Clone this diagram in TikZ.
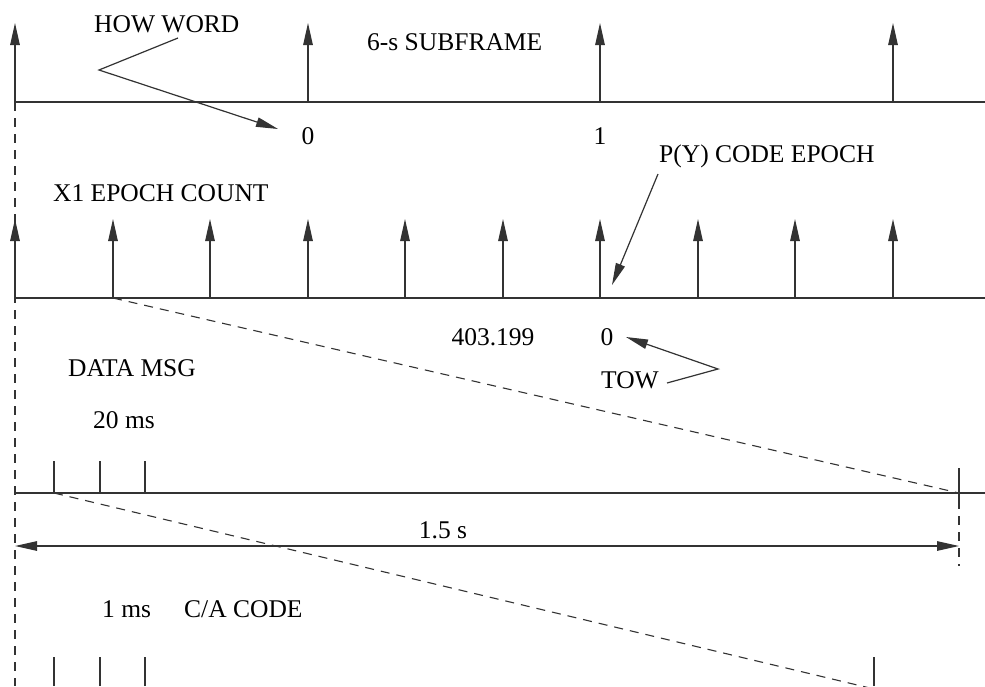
\documentclass[tikz,border=0pt]{standalone}
\usepackage{fontspec}
\setmainfont{Liberation Serif}
\usetikzlibrary{arrows.meta}
\begin{document}
\begin{tikzpicture}[x=1pt,y=-1pt,
  lbl/.style={inner sep=0pt, font=\fontsize{25.5}{30}\selectfont},
  ln/.style={draw=black!80, line width=1.2pt},
  tip/.style={-{Triangle[length=22pt,width=9.5pt]}},
  dtip/.style={{Triangle[length=22pt,width=9.5pt]}-{Triangle[length=22pt,width=9.5pt]}},
  dsh/.style={draw=black!80, line width=1.1pt, dash pattern=on 9pt off 7pt}]
\useasboundingbox[fill=white] (0,0) rectangle (985,686);
% left dashed reference line
\coordinate (vtop) at (15,102);
\coordinate (vbot) at (15,686);
\draw[dsh] (vtop) -- (vbot);
% ---------- row 1: 6-s subframe ----------
\coordinate (r1l) at (15,102);
\coordinate (r1r) at (985,102);
\draw[ln] (r1l) -- (r1r);
\foreach \x [count=\i] in {15,308,600,893} {
  \coordinate (a\i) at (\x,102);
  \coordinate (at\i) at (\x,23);
  \draw[ln,tip] (a\i) -- (at\i);
}
\node[lbl,anchor=base west] (how) at (94,32) {HOW WORD};
\node[lbl,anchor=base west] (sub) at (367,50) {6-s SUBFRAME};
\node[lbl,anchor=base] (z0) at (308,144) {0};
\node[lbl,anchor=base] (z1) at (600,144) {1};
\coordinate (howa) at (178,38);
\coordinate (howv) at (99,70);
\coordinate (howt) at (278,129);
\draw[ln,tip] (howa) -- (howv) -- (howt);
% ---------- row 2: X1 epoch count ----------
\coordinate (r2l) at (15,298);
\coordinate (r2r) at (985,298);
\draw[ln] (r2l) -- (r2r);
\foreach \x [count=\i] in {15,113,210,308,405,503,600,698,795,893} {
  \coordinate (b\i) at (\x,298);
  \coordinate (bt\i) at (\x,219);
  \draw[ln,tip] (b\i) -- (bt\i);
}
\node[lbl,anchor=base west] (x1) at (53,201) {X1 EPOCH COUNT};
\node[lbl,anchor=base west] (py) at (659,162) {P(Y) CODE EPOCH};
\coordinate (pya) at (658,174);
\coordinate (pyt) at (612,285);
\draw[ln,tip] (pya) -- (pyt);
\node[lbl,anchor=base] (cnt) at (493,345) {403.199};
\node[lbl,anchor=base] (tow0) at (607,345) {0};
\node[lbl,anchor=base west] (tow) at (601,388) {TOW};
\coordinate (towa) at (667,383);
\coordinate (towv) at (718,369);
\coordinate (towt) at (626,337);
\draw[ln,tip] (towa) -- (towv) -- (towt);
% ---------- row 3: data message ----------
\node[lbl,anchor=base west] (dm) at (68,376) {DATA MSG};
\node[lbl,anchor=base] (ms20) at (124,428) {20 ms};
\coordinate (r3l) at (15,493);
\coordinate (r3r) at (985,493);
\draw[ln] (r3l) -- (r3r);
\foreach \x [count=\i] in {54,100,145} {
  \coordinate (c\i) at (\x,493);
  \coordinate (ct\i) at (\x,461);
  \draw[ln] (c\i) -- (ct\i);
}
\coordinate (rt) at (959,468);
\coordinate (rb) at (959,500);
\coordinate (rd) at (959,566);
\draw[ln] (rt) -- (rb);
\draw[dsh] (rb) -- (rd);
\draw[dsh] (b2) -- (959,493);
% 1.5 s span
\coordinate (sl) at (15,546);
\coordinate (sr) at (959,546);
\draw[ln,dtip] (sl) -- (sr);
\node[lbl,anchor=base] (s15) at (443,538) {1.5 s};
% ---------- row 4: C/A code ----------
\node[lbl,anchor=base west] (ms1) at (102,617) {1 ms};
\node[lbl,anchor=base west] (ca) at (184,617) {C/A CODE};
\foreach \x [count=\i] in {54,100,145,874} {
  \coordinate (d\i) at (\x,686);
  \coordinate (dt\i) at (\x,657);
  \draw[ln] (d\i) -- (dt\i);
}
\coordinate (cadend) at (874,689);
\draw[dsh] (c1) -- (cadend);
\end{tikzpicture}
\end{document}
